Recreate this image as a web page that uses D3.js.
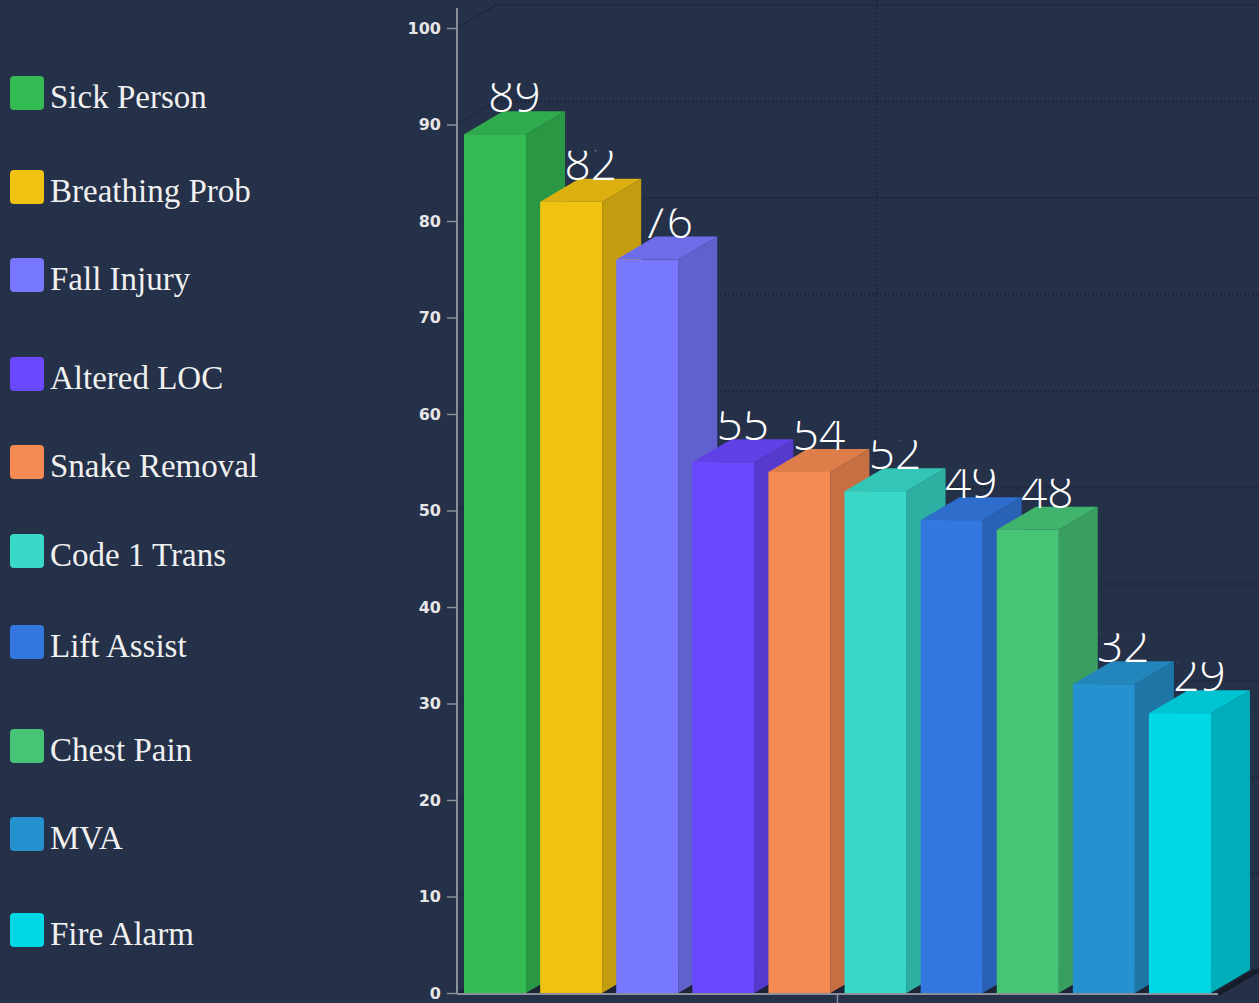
<!DOCTYPE html>
<html>
<head>
<meta charset="utf-8">
<script src="https://cdn.jsdelivr.net/npm/d3@7"></script>
<style>
  html, body { margin: 0; padding: 0; background: #253049; }
  svg { display: block; }
</style>
</head>
<body>
<svg id="chart" width="1259" height="1003"></svg>
<script>
// Call types and their counts
const categories = ["Sick Person", "Breathing Prob", "Fall Injury", "Altered LOC", "Snake Removal",
                    "Code 1 Trans", "Lift Assist", "Chest Pain", "MVA", "Fire Alarm"];
const values = [89, 82, 76, 55, 54, 52, 49, 48, 32, 29];
const colors = ["#34bb54", "#f2c213", "#7878ff", "#6a48ff", "#f58a52",
                "#38d9c8", "#3378e0", "#47c577", "#2592cf", "#00d8e6"];
const yTicks = [0, 10, 20, 30, 40, 50, 60, 70, 80, 90, 100];

// Layout
const W = 1259, H = 1003;
const plot = { left: 457, right: 1218, top: 28, bottom: 993 };
const depth = { dx: 39, dy: -23 };
const legendTops = [76, 170, 258, 357, 445, 534, 625, 729, 817, 913];

const svg = d3.select("#chart");

const y = d3.scaleLinear().domain([0, 100]).range([plot.bottom, plot.top]);
const x = d3.scaleBand().domain(categories)
  .range([plot.left, plot.right]).paddingInner(0.185).paddingOuter(0.0925);

// Back wall grid (dotted)
const grid = svg.append("g").attr("stroke", "#1b2232").attr("stroke-width", 1.5)
  .attr("stroke-dasharray", "2,2").attr("fill", "none");
yTicks.forEach(t => {
  grid.append("line").attr("x1", plot.left).attr("y1", y(t))
    .attr("x2", plot.left + depth.dx).attr("y2", y(t) + depth.dy);
  grid.append("line").attr("x1", plot.left + depth.dx).attr("y1", y(t) + depth.dy)
    .attr("x2", W).attr("y2", y(t) + depth.dy);
});
const midX = (plot.left + plot.right) / 2;
grid.append("line").attr("x1", midX + depth.dx).attr("y1", 0)
  .attr("x2", midX + depth.dx).attr("y2", plot.bottom + depth.dy);

// Floor
svg.append("path")
  .attr("d", `M${plot.left},${plot.bottom} L${plot.right},${plot.bottom} L${plot.right + depth.dx},${plot.bottom + depth.dy} L${plot.left + depth.dx},${plot.bottom + depth.dy} Z`)
  .attr("fill", "#1c2335");
svg.append("line")
  .attr("x1", plot.right).attr("y1", plot.bottom + 1)
  .attr("x2", W).attr("y2", plot.bottom + 1 + depth.dy * (W - plot.right) / depth.dx)
  .attr("stroke", "#161c2a").attr("stroke-width", 4);

// 3D bars, drawn left to right so each one overlaps its neighbour's side
const bars = svg.append("g");
categories.forEach((c, i) => {
  const v = values[i];
  const x0 = x(c), x1 = x0 + x.bandwidth();
  const yt = y(v), yb = y(0);
  const base = d3.color(colors[i]);
  const g = bars.append("g");
  // side face
  g.append("path")
    .attr("d", `M${x1},${yt} L${x1 + depth.dx},${yt + depth.dy} L${x1 + depth.dx},${yb + depth.dy} L${x1},${yb} Z`)
    .attr("fill", base.darker(0.6).formatHex());
  // top face
  g.append("path")
    .attr("d", `M${x0},${yt} L${x0 + depth.dx},${yt + depth.dy} L${x1 + depth.dx},${yt + depth.dy} L${x1},${yt} Z`)
    .attr("fill", base.darker(0.27).formatHex());
  // front face
  g.append("rect").attr("x", x0).attr("y", yt)
    .attr("width", x.bandwidth()).attr("height", yb - yt)
    .attr("fill", base.formatHex());
});

// Axes
const yAxis = svg.append("g").attr("transform", `translate(${plot.left},0)`)
  .call(d3.axisLeft(y).tickValues(yTicks).tickSize(10).tickPadding(6));
yAxis.select(".domain").remove();
yAxis.selectAll(".tick line").attr("stroke", "#8a8f99").attr("stroke-width", 1.5);
yAxis.selectAll(".tick text").attr("fill", "#e6e6e6")
  .style("font-family", "'DejaVu Sans', sans-serif").style("font-size", "16px").style("font-weight", "bold");
svg.append("line").attr("x1", plot.left).attr("y1", 8).attr("x2", plot.left).attr("y2", plot.bottom + 1)
  .attr("stroke", "#8a8f99").attr("stroke-width", 2);
svg.append("line").attr("x1", plot.left).attr("y1", plot.bottom + 1).attr("x2", plot.right).attr("y2", plot.bottom + 1)
  .attr("stroke", "#8a8f99").attr("stroke-width", 2);
svg.append("line").attr("x1", midX).attr("y1", plot.bottom).attr("x2", midX).attr("y2", H)
  .attr("stroke", "#8a8f99").attr("stroke-width", 1.5);

// Value labels sitting on the back edge of each bar top
const defs = svg.append("defs");
const labels = svg.append("g");
categories.forEach((c, i) => {
  const cx = x(c) + x.bandwidth() / 2 + depth.dx / 2;
  const base = y(values[i]) + depth.dy + 1;
  defs.append("clipPath").attr("id", "lbl" + i)
    .append("rect").attr("x", cx - 60).attr("y", base - 29).attr("width", 120).attr("height", 40);
  labels.append("text")
    .attr("clip-path", `url(#lbl${i})`)
    .attr("x", cx).attr("y", base)
    .attr("text-anchor", "middle")
    .attr("fill", "#ffffff")
    .style("font-family", "'Open Sans', sans-serif")
    .style("font-weight", 300)
    .style("font-size", "46px")
    .text(values[i]);
});

// Legend
const legend = svg.append("g");
categories.forEach((c, i) => {
  const top = legendTops[i];
  legend.append("rect").attr("x", 10).attr("y", top).attr("width", 34).attr("height", 34)
    .attr("rx", 4).attr("fill", colors[i]);
  legend.append("text").attr("x", 50).attr("y", top + 32)
    .attr("fill", "#f0f0f0")
    .style("font-family", "'Liberation Serif', 'Times New Roman', serif")
    .style("font-size", "33px")
    .text(c);
});
</script>
</body>
</html>
